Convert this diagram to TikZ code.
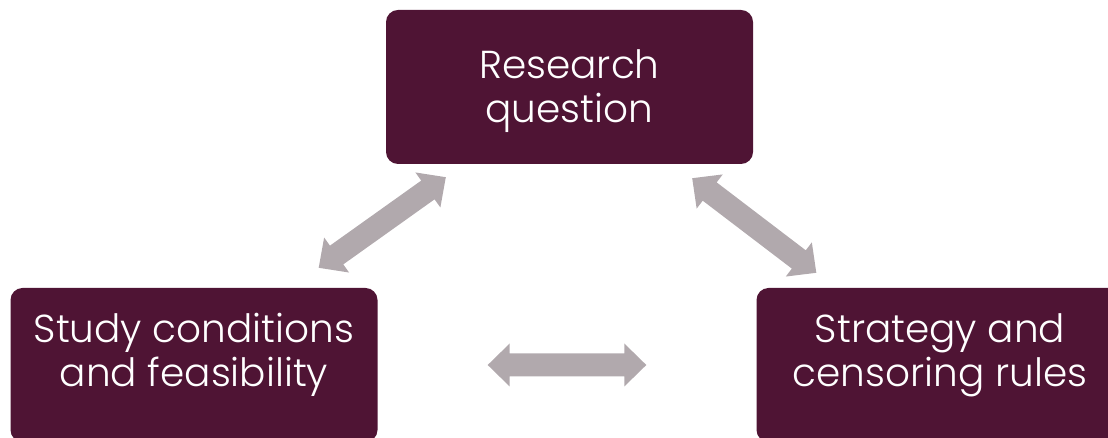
\documentclass[tikz,border=0pt]{standalone}
\usepackage{fontspec}
\setmainfont{Poppins}[UprightFont=* Light]
\usetikzlibrary{calc}
\definecolor{plum}{RGB}{79,20,52}
\definecolor{ash}{RGB}{177,169,173}
\begin{document}
\begin{tikzpicture}[x=1pt,y=1pt,
  box/.style={fill=plum, rounded corners=12pt, minimum width=367pt, minimum height=154pt, inner sep=0pt},
  txt/.style={text=white, align=center, font=\fontsize{39}{44}\selectfont},
  link/.style={fill=ash, to path={
    -- ($($(\tikztostart)!22pt!(\tikztotarget)$)!21.5pt!90:(\tikztotarget)$)
    -- ($($(\tikztostart)!22pt!(\tikztotarget)$)!11.5pt!90:(\tikztotarget)$)
    -- ($($(\tikztotarget)!22pt!(\tikztostart)$)!11.5pt!-90:(\tikztostart)$)
    -- ($($(\tikztotarget)!22pt!(\tikztostart)$)!21.5pt!-90:(\tikztostart)$)
    -- (\tikztotarget)
    -- ($($(\tikztotarget)!22pt!(\tikztostart)$)!21.5pt!90:(\tikztostart)$)
    -- ($($(\tikztotarget)!22pt!(\tikztostart)$)!11.5pt!90:(\tikztostart)$)
    -- ($($(\tikztostart)!22pt!(\tikztotarget)$)!11.5pt!-90:(\tikztotarget)$)
    -- ($($(\tikztostart)!22pt!(\tikztotarget)$)!21.5pt!-90:(\tikztotarget)$)
    -- cycle}}]
\useasboundingbox (0,0) rectangle (1108,438);
\clip (0,0) rectangle (1108,438);
\node [box] (q) at (569.5,351) {};
\node [box] (c) at (194,73) {};
\node [box] (s) at (940,73) {};
\node [txt] (qt) at ([yshift=-4pt]q.center) {Research\\question};
\node [txt] (ct) at ([yshift=10pt]c.center) {Study conditions\\and feasibility};
\node [txt] (st) at ([yshift=10pt]s.center) {Strategy and\\censoring rules};
\coordinate (qa) at ([shift={(60,-13)}]q.south west);
\coordinate (ca) at ([shift={(-59,20)}]c.north east);
\coordinate (qb) at ([shift={(-61,-14)}]q.south east);
\coordinate (sb) at ([shift={(60,15)}]s.north west);
\coordinate (cc) at ([xshift=110pt]c.east);
\coordinate (sc) at ([xshift=-110pt]s.west);
\path [link] (ca) to (qa);
\path [link] (qb) to (sb);
\path [link] (cc) to (sc);
\end{tikzpicture}
\end{document}
